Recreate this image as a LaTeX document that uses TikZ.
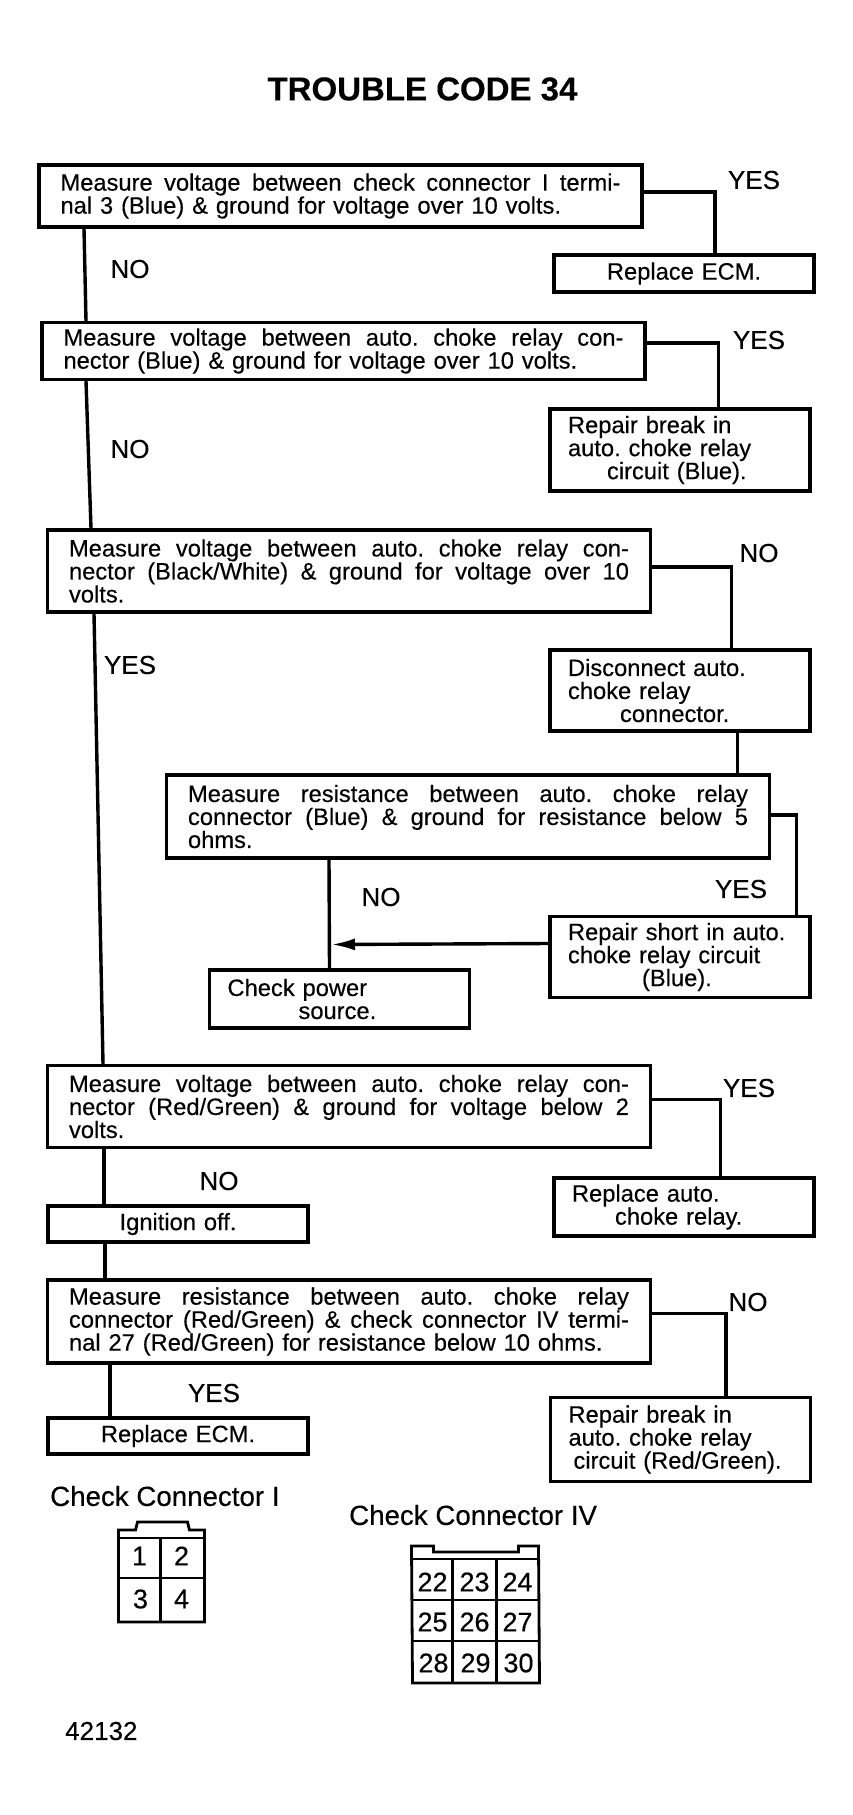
\documentclass[tikz,border=0pt]{standalone}
\usepackage{fontspec}
\setmainfont{Liberation Sans}[FakeBold=0.3]
\usetikzlibrary{arrows.meta}
\newcommand{\spreadline}[1]{{\spaceskip=0pt\xspaceskip=0pt\makebox[560pt][s]{#1}}}
\frenchspacing
\begin{document}
\begin{tikzpicture}[x=1pt, y=-1pt,
  linkline/.style={line width=3.4pt},
  stepbox/.style={draw, line width=3.4pt, inner xsep=20pt, inner ysep=0pt, text width=560pt, align=left, font=\fontsize{23.7}{23}\selectfont},
  sidebox/.style={stepbox, text width=224pt, inner xsep=18pt},
  shortbox/.style={stepbox, text width=224pt, inner xsep=18pt, align=center},
  answer/.style={font=\fontsize{26}{28}\selectfont, inner sep=0pt},
  plugtitle/.style={font=\fontsize{27.7}{30}\selectfont, inner sep=0pt, anchor=west},
  plugline/.style={line width=2.8pt},
  pin/.style={font=\fontsize{27}{29}\selectfont, inner sep=0pt}]

\useasboundingbox (0,0) rectangle (853,1815);
\fill[white] (0,0) rectangle (853,1815);

\node[font=\fontsize{33}{35}\selectfont\bfseries, inner sep=0pt] (title) at (422.5,89) {TROUBLE CODE 34};

\node[stepbox, minimum width=603pt, minimum height=62pt] (qa) at (340.5,196) {\spreadline{Measure voltage between check connector I termi-}\\nal 3 (Blue) \& ground for voltage over 10 volts.};
\node[shortbox, minimum width=260pt, minimum height=37pt] (fixa) at (684,273.5) {Replace ECM.};

\node[stepbox, minimum width=603pt, minimum height=57pt] (qb) at (343.5,351) {\spreadline{Measure voltage between auto. choke relay con-}\\nector (Blue) \& ground for voltage over 10 volts.};
\node[sidebox, minimum width=260pt, minimum height=82pt] (fixb) at (680,450) {Repair break in\\auto. choke relay\\\hspace*{39pt}circuit (Blue).};

\node[stepbox, minimum width=603pt, minimum height=82pt] (qc) at (349,571) {\spreadline{Measure voltage between auto. choke relay con-}\\\spreadline{nector (Black/White) \& ground for voltage over 10}\\volts.};
\node[sidebox, minimum width=260pt, minimum height=81pt] (disc) at (680,690.5) {Disconnect auto.\\choke relay\\\hspace*{52pt}connector.};

\node[stepbox, minimum width=603pt, minimum height=83pt] (qd) at (468,816.5) {\spreadline{Measure resistance between auto. choke relay}\\\spreadline{connector (Blue) \& ground for resistance below 5}\\ohms.};
\node[sidebox, minimum width=260pt, minimum height=81pt] (fixd) at (680,957) {Repair short in auto.\\choke relay circuit\\\hspace*{74pt}(Blue).};
\node[sidebox, minimum width=260pt, minimum height=58pt] (power) at (339.5,999) {Check power\\\hspace*{71pt}source.};

\node[stepbox, minimum width=603pt, minimum height=82pt] (qe) at (349,1106.5) {\spreadline{Measure voltage between auto. choke relay con-}\\\spreadline{nector (Red/Green) \& ground for voltage below 2}\\volts.};
\node[sidebox, minimum width=260pt, minimum height=58pt] (fixe) at (684,1207) {Replace auto.\\\hspace*{43pt}choke relay.};
\node[shortbox, minimum width=260pt, minimum height=36pt] (ign) at (178,1224) {Ignition off.};

\node[stepbox, minimum width=603pt, minimum height=83pt] (qf) at (349,1321.5) {\spreadline{Measure resistance between auto. choke relay}\\\spreadline{connector (Red/Green) \& check connector IV termi-}\\nal 27 (Red/Green) for resistance below 10 ohms.};
\node[sidebox, minimum width=260pt, minimum height=84pt] (fixf) at (680.5,1439.5) {Repair break in\\auto. choke relay\\\hspace*{5pt}circuit (Red/Green).};
\node[shortbox, minimum width=260pt, minimum height=36pt] (ecm) at (178,1436) {Replace ECM.};

\draw[linkline] ([yshift=4pt]qa.east) -| ([xshift=31pt]fixa.north);
\draw[linkline] ([xshift=-256.5pt]qa.south) -- ([xshift=-257.5pt]qb.north);
\draw[linkline] ([yshift=8pt]qb.east) -| ([xshift=38.5pt]fixb.north);
\draw[linkline] ([xshift=-257.5pt]qb.south) -- ([xshift=-258pt]qc.north);
\draw[linkline] ([yshift=4pt]qc.east) -| ([xshift=51.5pt]disc.north);
\draw[linkline] ([xshift=57.5pt]disc.south) -- ([xshift=269.5pt]qd.north);
\draw[linkline] ([yshift=1.5pt]qd.east) -| ([xshift=116.5pt]fixd.north);
\draw[linkline] ([xshift=-139pt]qd.south) -- ([xshift=-10pt]power.north);
\coordinate (join) at (331,944.5);
\draw[linkline, -{Latex[length=24pt,width=12pt]}] ([yshift=13.5pt]fixd.west) -- (join);
\draw[linkline] ([xshift=-255pt]qc.south) -- ([xshift=-246pt]qe.north);
\draw[linkline] ([yshift=7pt]qe.east) -| ([xshift=36.5pt]fixe.north);
\draw[linkline] ([xshift=-245pt]qe.south) -- ([xshift=-74pt]ign.north);
\draw[linkline] ([xshift=-73pt]ign.south) -- ([xshift=-244pt]qf.north);
\draw[linkline] ([yshift=8pt]qf.east) -| ([xshift=45.5pt]fixf.north);
\draw[linkline] ([xshift=-239pt]qf.south) -- ([xshift=-68pt]ecm.north);

\node[answer] (la) at (754,180) {YES};
\node[answer] (lb) at (130,269) {NO};
\node[answer] (lc) at (759,340) {YES};
\node[answer] (ld) at (130,449) {NO};
\node[answer] (le) at (759,553) {NO};
\node[answer] (lf) at (130,665) {YES};
\node[answer] (lg) at (741,889) {YES};
\node[answer] (lh) at (381,897) {NO};
\node[answer] (li) at (749,1088) {YES};
\node[answer] (lj) at (219,1181) {NO};
\node[answer] (lk) at (748,1302) {NO};
\node[answer] (ll) at (214,1393) {YES};

\node[plugtitle] (plugi) at (50,1496) {Check Connector I};
\node[plugtitle] (plugiv) at (349,1515) {Check Connector IV};

\draw[plugline] (118.5,1622) -- (118.5,1530) -- (135.5,1530) -- (137.5,1522) -- (187.5,1522) -- (189.5,1530) -- (204.5,1530) -- (204.5,1622) -- cycle;
\draw[plugline] (118.5,1538) -- (204.5,1538);
\draw[plugline] (118.5,1578) -- (204.5,1578);
\draw[plugline] (160.5,1538) -- (160.5,1622);
\node[pin] (pa) at (139.5,1556) {1};
\node[pin] (pb) at (181.5,1556) {2};
\node[pin] (pc) at (140.5,1599) {3};
\node[pin] (pd) at (181.5,1599) {4};

\draw[plugline] (412.5,1683) -- (411.5,1546) -- (433.5,1546) -- (433.5,1552) -- (518.5,1552) -- (518.5,1546) -- (538.5,1546) -- (539.5,1683) -- cycle;
\draw[plugline] (411.5,1559) -- (538.5,1559);
\draw[plugline] (411.5,1600) -- (538.5,1600);
\draw[plugline] (412.5,1641) -- (539.5,1641);
\draw[plugline] (452.5,1559) -- (452.5,1683);
\draw[plugline] (496.5,1559) -- (496.5,1683);
\node[pin] (pe) at (432.5,1582) {22};
\node[pin] (pf) at (474.5,1582) {23};
\node[pin] (pg) at (517.5,1582) {24};
\node[pin] (ph) at (432.5,1622) {25};
\node[pin] (pi) at (474.5,1622) {26};
\node[pin] (pj) at (517.5,1622) {27};
\node[pin] (pk) at (433.5,1663) {28};
\node[pin] (pl) at (475.5,1663) {29};
\node[pin] (pm) at (518.5,1663) {30};

\node[answer, anchor=west] (partno) at (65,1731) {42132};

\end{tikzpicture}
\end{document}
